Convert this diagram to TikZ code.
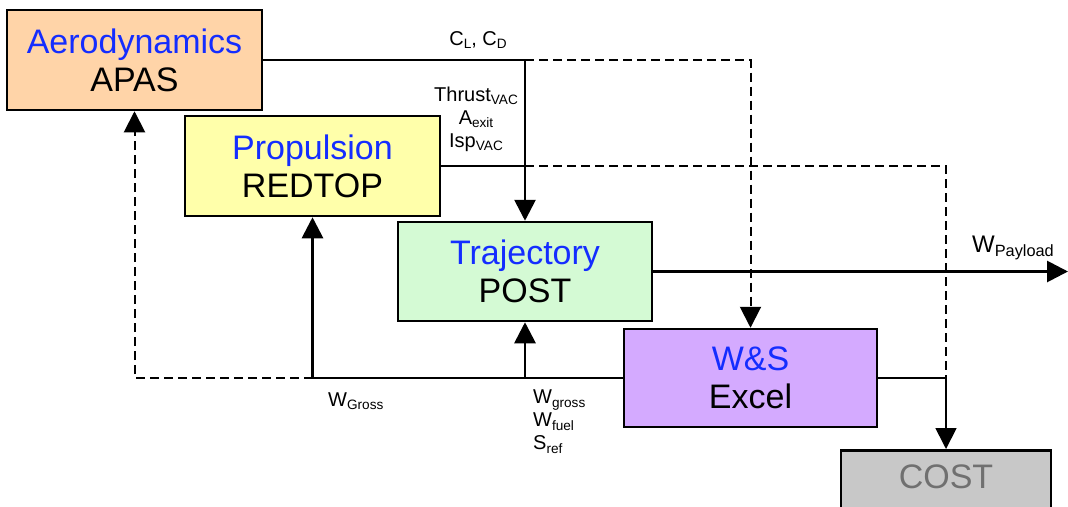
\documentclass[tikz,border=0pt]{standalone}
\usepackage{fontspec}
\setmainfont{Liberation Sans}
\usetikzlibrary{arrows.meta}

\definecolor{toolblue}{RGB}{20,45,255}
\definecolor{aerofill}{RGB}{255,212,168}
\definecolor{propfill}{RGB}{255,255,170}
\definecolor{trajfill}{RGB}{212,250,212}
\definecolor{wsfill}{RGB}{212,170,255}
\definecolor{costfill}{RGB}{200,200,200}
\definecolor{costtext}{RGB}{112,112,112}
\newcommand{\lsub}[1]{\raisebox{-0.3ex}{\scalebox{0.68}{#1}}}

\begin{document}
\begin{tikzpicture}[x=1pt,y=-1pt,>={Triangle[length=21pt,width=21pt]},line join=miter,
    box/.style={draw,line width=2.5pt,minimum width=255pt,minimum height=100pt,inner sep=0pt,
      align=center,font=\fontsize{34}{38}\selectfont},
    flow/.style={line width=2.8pt},
    flowdash/.style={line width=2pt,dash pattern=on 9pt off 5pt},
    lbl/.style={inner sep=0pt,font=\fontsize{20}{23}\selectfont}]
  \useasboundingbox (0,0) rectangle (1068,506);

  % tools
  \node[box,fill=aerofill] (aero) at (134.5,60) {\textcolor{toolblue}{Aerodynamics}\\APAS};
  \node[box,fill=propfill] (prop) at (312.5,166) {\textcolor{toolblue}{Propulsion}\\REDTOP};
  \node[box,fill=trajfill,minimum width=254pt,minimum height=99pt] (traj) at (525,271.5) {\textcolor{toolblue}{Trajectory}\\POST};
  \node[box,fill=wsfill,minimum width=253pt,minimum height=98pt] (ws) at (750.5,378) {\textcolor{toolblue}{W\&S}\\Excel};
  \node[box,fill=costfill,text=costtext,minimum width=210pt,minimum height=70pt,text depth=18pt,anchor=north] (cost) at (946,449) {COST};

  % aerodynamics and propulsion data
  \coordinate (aerojoin) at (aero.east -| traj.north);
  \coordinate (propjoin) at (prop.east -| traj.north);
  \coordinate (costjoin) at (ws.east -| cost.north);
  \draw[flowdash,->] (aerojoin) -| (ws.north);
  \draw[flowdash] (propjoin) -| (costjoin);
  \draw[flow,->] (aero.east) -- (aerojoin) -- (traj.north);
  \draw[flow] (prop.east) -- (propjoin);

  % payload out
  \coordinate (payload) at (1068,271.5);
  \draw[flow,->] (traj.east) -- (payload);

  % weights back
  \coordinate (grossjoin) at (ws.west -| prop.south);
  \coordinate (trajjoin) at (ws.west -| traj.south);
  \draw[flowdash,->] (grossjoin) -| (aero.south);
  \draw[flow] (ws.west) -- (grossjoin);
  \draw[flow,->] (grossjoin) -- (prop.south);
  \draw[flow,->] (trajjoin) -- (traj.south);
  \draw[line width=1.8pt,->] (ws.east) -- (costjoin) -- (cost.north);

  % labels
  \node[lbl] (clcd) at (478,40) {C\lsub{L}, C\lsub{D}};
  \node[lbl,align=center] (propout) at (476,119) {Thrust\lsub{VAC}\\A\lsub{exit}\\Isp\lsub{VAC}};
  \node[lbl,font=\fontsize{24}{28}\selectfont] (wpay) at (1013,248) {W\lsub{Payload}};
  \node[lbl,anchor=west] (wgross) at (328,401) {W\lsub{Gross}};
  \node[lbl,align=left,anchor=north west] (wsout) at (533,390) {W\lsub{gross}\\W\lsub{fuel}\\S\lsub{ref}};
\end{tikzpicture}
\end{document}
